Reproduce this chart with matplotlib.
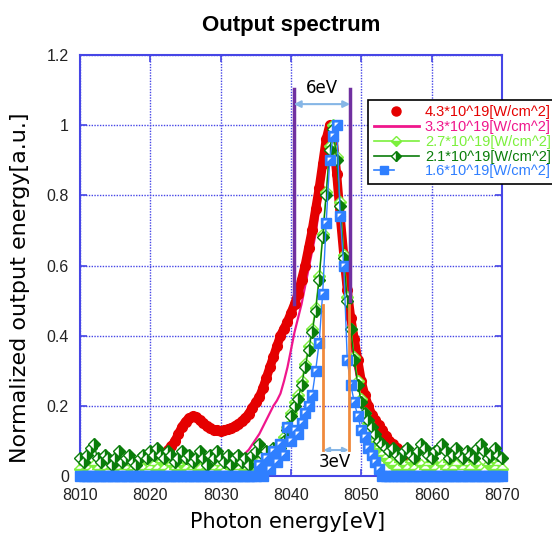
import numpy as np
import matplotlib
matplotlib.use('Agg')
from matplotlib import pyplot as plt
from matplotlib.lines import Line2D
from matplotlib.legend_handler import HandlerTuple

plt.rcParams['font.family'] = ['Liberation Sans', 'DejaVu Sans']

# ---- data ----
energy = np.arange(8010, 8070.01, 0.5)  # shared grid for the 2.7 / 2.1 / 1.6 series

red_x = [8022.5, 8023, 8023.5, 8024, 8024.5, 8025, 8025.5, 8026, 8026.5, 8027,
         8027.5, 8028, 8028.5, 8029, 8029.5, 8030, 8030.5, 8031, 8031.5, 8032,
         8032.5, 8033, 8033.5, 8034, 8034.5, 8035, 8035.5, 8036, 8036.5, 8037,
         8037.5, 8038, 8038.5, 8039, 8039.5, 8040, 8040.5, 8041, 8041.5, 8042,
         8042.5, 8043, 8043.5, 8044, 8044.5, 8045, 8045.5, 8046, 8046.5, 8047,
         8047.5, 8048, 8048.5, 8049, 8049.5, 8050, 8050.5, 8051, 8051.5, 8052,
         8052.5, 8053, 8053.5, 8054, 8054.5, 8055, 8055.5, 8056, 8056.5, 8057,
         8057.5]
red_y = [0.075, 0.085, 0.1, 0.12, 0.14, 0.155, 0.165, 0.17, 0.168, 0.16,
         0.15, 0.142, 0.136, 0.132, 0.13, 0.129, 0.13, 0.133, 0.137, 0.142,
         0.148, 0.156, 0.165, 0.178, 0.195, 0.21, 0.225, 0.25, 0.28, 0.31,
         0.34, 0.37, 0.4, 0.42, 0.44, 0.465, 0.49, 0.52, 0.56, 0.6,
         0.65, 0.7, 0.76, 0.82, 0.89, 0.96, 1.0, 0.96, 0.86, 0.74,
         0.63, 0.53, 0.45, 0.39, 0.33, 0.27, 0.23, 0.2, 0.175, 0.16,
         0.145, 0.13, 0.115, 0.1, 0.09, 0.08, 0.07, 0.062, 0.055, 0.05,
         0.045]

pink_x = [8032.5, 8033, 8033.5, 8034, 8034.5, 8035, 8035.5, 8036, 8036.5, 8037,
          8037.5, 8038, 8038.5, 8039, 8039.5, 8040, 8040.5, 8041, 8041.5, 8042,
          8042.5, 8043, 8043.5, 8044, 8044.5, 8045, 8045.5, 8046, 8046.5, 8047,
          8047.5, 8048, 8048.5, 8049, 8049.5, 8050, 8050.5, 8051, 8051.5, 8052,
          8052.5, 8053, 8053.5, 8054, 8054.5, 8055, 8055.5, 8056]
pink_y = [0.045, 0.055, 0.065, 0.075, 0.09, 0.105, 0.12, 0.14, 0.16, 0.18,
          0.2, 0.215, 0.235, 0.27, 0.31, 0.36, 0.41, 0.45, 0.49, 0.54,
          0.59, 0.64, 0.69, 0.76, 0.85, 0.94, 1.0, 0.93, 0.8, 0.66,
          0.55, 0.46, 0.38, 0.32, 0.27, 0.22, 0.185, 0.155, 0.13, 0.11,
          0.095, 0.085, 0.075, 0.065, 0.058, 0.052, 0.047, 0.043]

lgreen_y = [0.02, 0.03, 0.02, 0.01, 0.03, 0.02, 0.04, 0.02, 0.01, 0.02,
            0.03, 0.02, 0.01, 0.02, 0.03, 0.02, 0.01, 0.03, 0.02, 0.01,
            0.02, 0.03, 0.02, 0.04, 0.02, 0.01, 0.03, 0.02, 0.03, 0.04,
            0.02, 0.01, 0.02, 0.03, 0.02, 0.04, 0.02, 0.01, 0.02, 0.03,
            0.02, 0.01, 0.03, 0.02, 0.01, 0.02, 0.03, 0.02, 0.04, 0.02,
            0.03, 0.04, 0.03, 0.05, 0.04, 0.06, 0.07, 0.09, 0.11, 0.14,
            0.18, 0.21, 0.23, 0.27, 0.32, 0.37, 0.42, 0.48, 0.57, 0.69,
            0.81, 0.94, 1.0, 0.91, 0.78, 0.63, 0.51, 0.42, 0.34, 0.27,
            0.22, 0.18, 0.15, 0.12, 0.1, 0.08, 0.06, 0.05, 0.04, 0.03,
            0.02, 0.04, 0.03, 0.02, 0.04, 0.02, 0.01, 0.03, 0.02, 0.03,
            0.04, 0.02, 0.01, 0.03, 0.02, 0.04, 0.02, 0.03, 0.01, 0.02,
            0.03, 0.02, 0.04, 0.03, 0.02, 0.01, 0.03, 0.04, 0.02, 0.03,
            0.02]

dgreen_y = [0.05, 0.04, 0.06, 0.08, 0.09, 0.05, 0.04, 0.06, 0.05, 0.03,
            0.05, 0.07, 0.04, 0.05, 0.06, 0.04, 0.03, 0.05, 0.06, 0.05,
            0.07, 0.06, 0.08, 0.06, 0.05, 0.07, 0.06, 0.04, 0.05, 0.07,
            0.05, 0.06, 0.04, 0.05, 0.07, 0.05, 0.03, 0.06, 0.05, 0.07,
            0.05, 0.04, 0.06, 0.03, 0.05, 0.06, 0.04, 0.05, 0.03, 0.06,
            0.07, 0.09, 0.06, 0.07, 0.06, 0.08, 0.07, 0.08, 0.1, 0.13,
            0.17, 0.2, 0.22, 0.26, 0.31, 0.36, 0.41, 0.47, 0.56, 0.68,
            0.8, 0.93, 0.99, 0.9, 0.77, 0.62, 0.5, 0.42, 0.33, 0.26,
            0.21, 0.18, 0.16, 0.14, 0.12, 0.1, 0.09, 0.08, 0.07, 0.08,
            0.06, 0.05, 0.07, 0.08, 0.06, 0.05, 0.07, 0.09, 0.08, 0.06,
            0.05, 0.07, 0.08, 0.09, 0.07, 0.05, 0.06, 0.08, 0.06, 0.05,
            0.07, 0.06, 0.05, 0.08, 0.09, 0.07, 0.05, 0.06, 0.08, 0.06,
            0.05]

blue_y = [0.0, 0.0, 0.0, 0.0, 0.0, 0.0, 0.0, 0.0, 0.0, 0.0,
          0.0, 0.0, 0.0, 0.0, 0.0, 0.0, 0.0, 0.0, 0.0, 0.0,
          0.0, 0.0, 0.0, 0.0, 0.0, 0.0, 0.0, 0.0, 0.0, 0.0,
          0.0, 0.0, 0.0, 0.0, 0.0, 0.0, 0.0, 0.0, 0.0, 0.0,
          0.0, 0.0, 0.0, 0.0, 0.0, 0.0, 0.0, 0.0, 0.0, 0.0,
          0.0, 0.03, 0.0, 0.05, 0.02, 0.07, 0.04, 0.09, 0.06, 0.14,
          0.1, 0.13, 0.12, 0.15, 0.18, 0.2, 0.23, 0.3, 0.38, 0.52,
          0.72, 0.9, 0.97, 1.0, 0.74, 0.6, 0.33, 0.26, 0.21, 0.17,
          0.13, 0.11, 0.08, 0.06, 0.04, 0.02, 0.0, 0.0, 0.0, 0.0,
          0.0, 0.0, 0.0, 0.0, 0.0, 0.0, 0.0, 0.0, 0.0, 0.0,
          0.0, 0.0, 0.0, 0.0, 0.0, 0.0, 0.0, 0.0, 0.0, 0.0,
          0.0, 0.0, 0.0, 0.0, 0.0, 0.0, 0.0, 0.0, 0.0, 0.0,
          0.0]

labels = ['4.3*10^19[W/cm^2]', '3.3*10^19[W/cm^2]', '2.7*10^19[W/cm^2]',
          '2.1*10^19[W/cm^2]', '1.6*10^19[W/cm^2]']
xticks = [8010, 8020, 8030, 8040, 8050, 8060, 8070]
yticks = [0, 0.2, 0.4, 0.6, 0.8, 1.0, 1.2]
ytick_labels = ['0', '0.2', '0.4', '0.6', '0.8', '1', '1.2']

c_red, c_pink, c_lg, c_dg, c_blue = '#e50000', '#f0168c', '#7cf03c', '#0a7d0a', '#2f7fff'
axis_blue = '#4646e6'
tri = [(-1, 1), (0.35, 1), (-1, -0.35), (-1, 1)]  # white corner on the blue squares

fig = plt.figure(figsize=(5.52, 5.37), dpi=100)
ax = fig.add_axes([80/552, 61/537, 422/552, 421/537])

ax.plot(pink_x, pink_y, color=c_pink, lw=1.6, zorder=2, clip_on=False)
ax.plot(red_x, red_y, color=c_red, lw=6.5, marker='o', ms=7, mec=c_red, zorder=3,
        solid_capstyle='round', clip_on=False)
ax.plot(energy, lgreen_y, color=c_lg, lw=1, marker='D', ms=6, fillstyle='bottom',
        mfc=c_lg, mfcalt='white', mec=c_lg, mew=1, zorder=4, clip_on=False)
ax.plot(energy, dgreen_y, color=c_dg, lw=1, marker='D', ms=6.5, fillstyle='right',
        mfc=c_dg, mfcalt='white', mec=c_dg, mew=1, zorder=5, clip_on=False)
ax.plot(energy, blue_y, color=c_blue, lw=1, marker='s', ms=6.5, mfc=c_blue, mec=c_blue,
        zorder=6, clip_on=False)
nz = np.array(blue_y) > 0
ax.plot(energy[nz], np.array(blue_y)[nz], ls='none', marker=tri, ms=4.2, mfc='white',
        mew=0, zorder=6)

# width annotations
purple = '#7030a0'
ax.plot([8040.4, 8040.4], [0.49, 1.103], color=purple, lw=2.5, zorder=7)
ax.plot([8048.4, 8048.4], [0.5, 1.103], color=purple, lw=2.5, zorder=7)
ax.annotate('', xy=(8040.4, 1.06), xytext=(8048.4, 1.06),
            arrowprops=dict(arrowstyle='<|-|>', color='#86b6e6', lw=1.5,
                            mutation_scale=10, shrinkA=0, shrinkB=0), zorder=7)
ax.text(8044.4, 1.105, '6eV', ha='center', va='center', fontsize=12, family='DejaVu Sans', zorder=8)

orange = '#f08a3c'
ax.plot([8044.6, 8044.6], [0.074, 0.487], color=orange, lw=2, zorder=7)
ax.plot([8048.2, 8048.2], [0.074, 0.487], color=orange, lw=2, zorder=7)
ax.annotate('', xy=(8044.6, 0.074), xytext=(8048.2, 0.074),
            arrowprops=dict(arrowstyle='<|-|>', color='#86b6e6', lw=1.5,
                            mutation_scale=8, shrinkA=0, shrinkB=0), zorder=7)
ax.text(8046.3, 0.04, '3eV', ha='center', va='center', fontsize=12, family='DejaVu Sans', zorder=8,
        bbox=dict(facecolor='white', edgecolor='none', pad=1))

ax.set_xlim(8010, 8070)
ax.set_ylim(0, 1.2)
ax.set_xticks(xticks)
ax.set_yticks(yticks)
ax.set_yticklabels(ytick_labels)
ax.grid(True, color=axis_blue, linestyle=(0, (1, 1)), linewidth=1.0)
ax.set_axisbelow(True)
for sp in ax.spines.values():
    sp.set_color(axis_blue)
    sp.set_linewidth(1.5)
    sp.set_zorder(1.5)
ax.tick_params(direction='in', length=5, width=1.2, color=axis_blue, top=True, right=True,
               labelsize=11.5, labelcolor='#222222')
ax.tick_params(axis='x', pad=9)
ax.tick_params(axis='y', pad=8)

fig.text(291/552, 1 - 25/537, 'Output spectrum', ha='center', va='center',
         fontsize=16, fontweight='bold')
fig.text(288/552, 1 - 522/537, 'Photon energy[eV]', ha='center', va='center',
         fontsize=15, family='DejaVu Sans')
fig.text(20/552, 1 - 288/537, 'Normalized output energy[a.u.]', ha='center', va='center',
         rotation=90, fontsize=16, family='DejaVu Sans')

h_red = Line2D([], [], ls='none', marker='o', ms=6.5, color=c_red)
h_pink = Line2D([], [], color=c_pink, lw=2)
h_lg = Line2D([], [], color=c_lg, lw=1.2, marker='D', ms=5, fillstyle='bottom',
              mfc=c_lg, mfcalt='white', mec=c_lg)
h_dg = Line2D([], [], color=c_dg, lw=1.2, marker='D', ms=5, fillstyle='right',
              mfc=c_dg, mfcalt='white', mec=c_dg)
h_blue = (Line2D([], [], color=c_blue, lw=1.2, marker='s', ms=5.5, mfc=c_blue, mec=c_blue),
          Line2D([], [], ls='none', marker=tri, ms=3.6, mfc='white', mew=0))
leg = ax.legend([h_red, h_pink, h_lg, h_dg, h_blue], labels,
                handler_map={tuple: HandlerTuple(ndivide=None)},
                loc='upper left', bbox_to_anchor=(0.6825, 0.894), borderaxespad=0,
                fontsize=10.5, numpoints=1, handlelength=3.1, handletextpad=0.4,
                labelspacing=0.05, borderpad=0.4, fancybox=False, framealpha=1,
                edgecolor='black', labelcolor=[c_red, c_pink, c_lg, c_dg, c_blue])
leg.get_frame().set_linewidth(1.2)
leg.set_zorder(10)

fig.savefig('out.png', dpi=100)
